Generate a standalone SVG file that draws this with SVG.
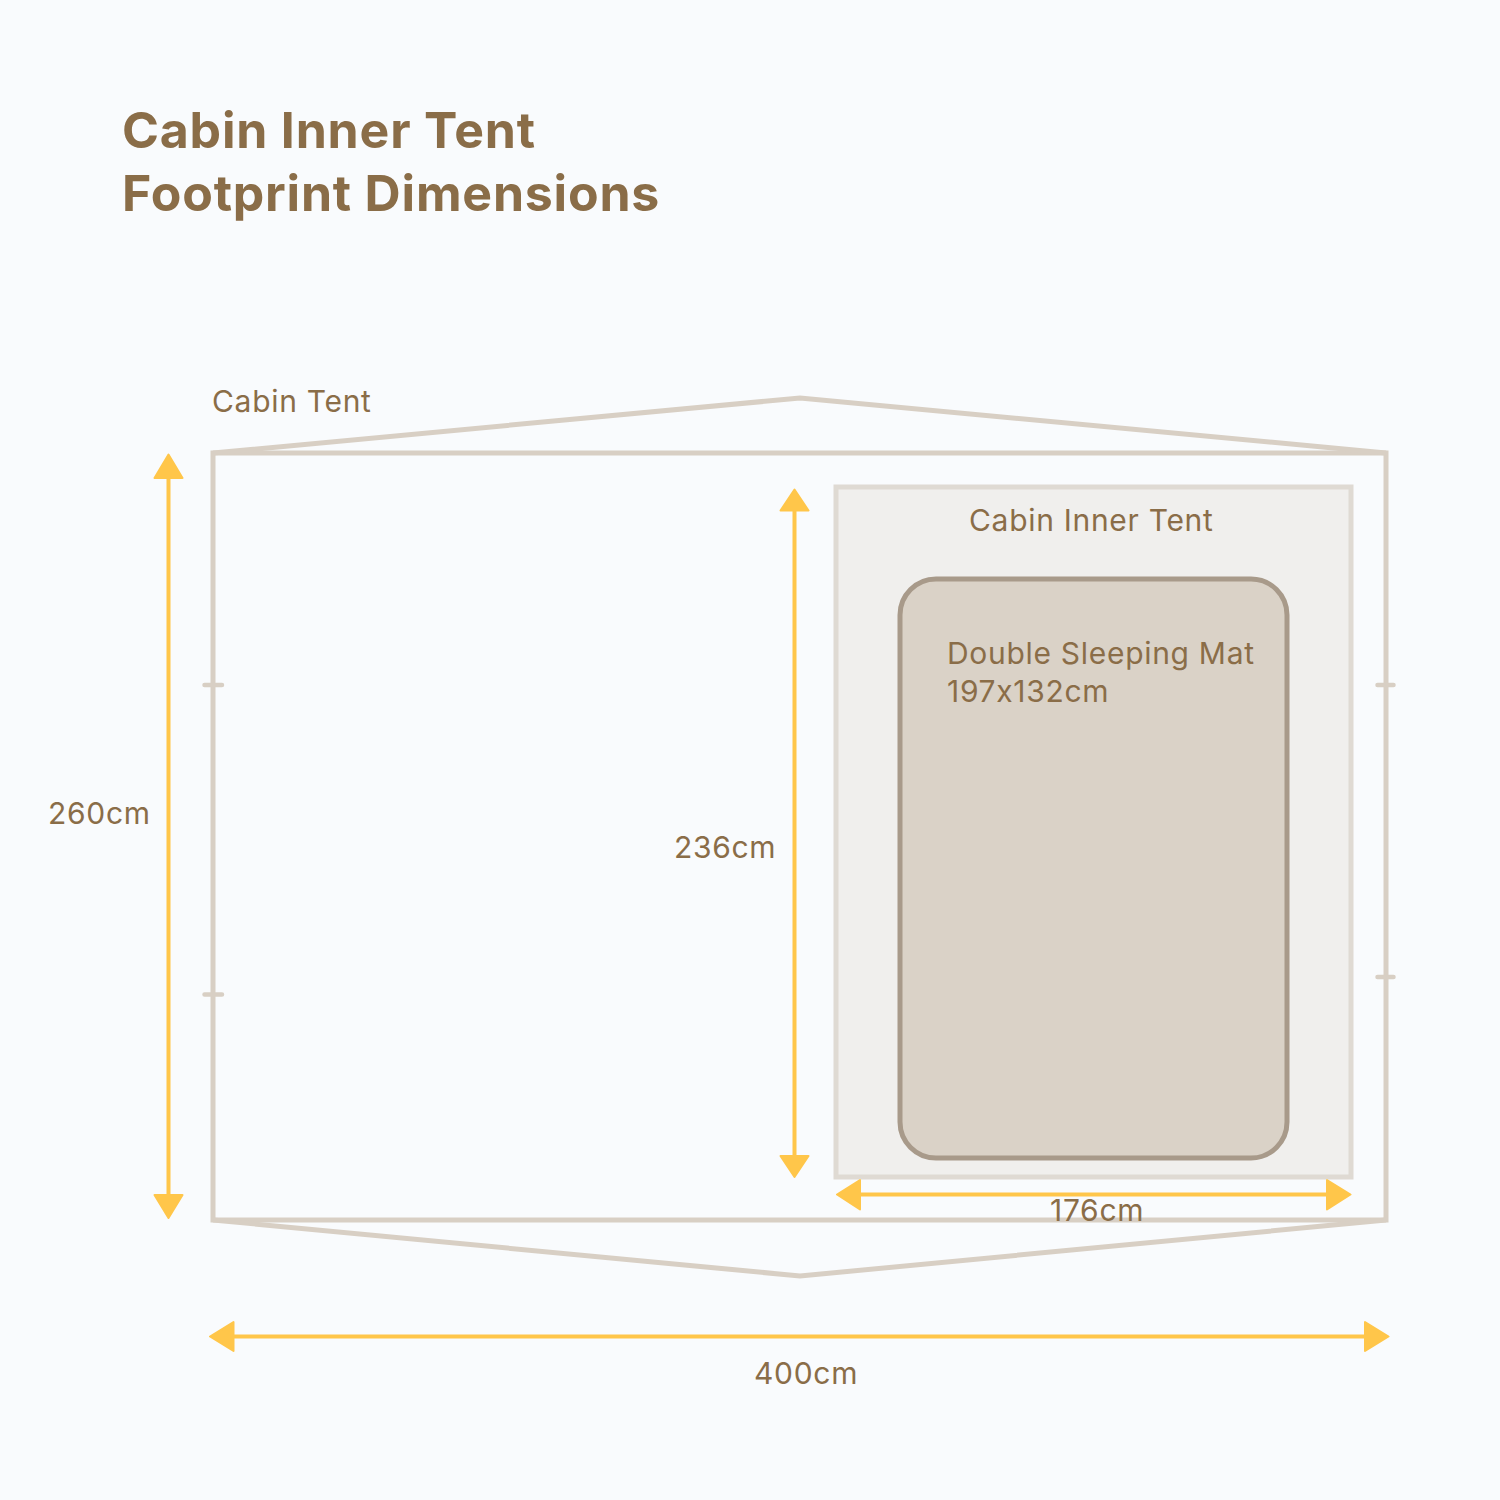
<svg xmlns="http://www.w3.org/2000/svg" width="1500" height="1500" viewBox="0 0 1500 1500">
<style>
.t{font-family:Inter,"Liberation Sans",sans-serif;fill:#8a6d48;font-size:30px;font-weight:400;letter-spacing:.7px}
.h{font-size:50px;font-weight:700;letter-spacing:.8px}
.tent{fill:none;stroke:#d8cfc4;stroke-width:5;stroke-linejoin:miter}
.tick{fill:none;stroke:#d8cfc4;stroke-width:4.500;stroke-linecap:round}
.dim{fill:none;stroke:#ffc64a;stroke-width:4}
.head{fill:#ffc64a;stroke:#ffc64a;stroke-width:2;stroke-linejoin:round}
</style>
<rect width="1500" height="1500" fill="#f9fbfd"/>
<g id="title"><text class="t h" x="122" y="148">Cabin Inner Tent</text><text class="t h" x="122" y="211">Footprint Dimensions</text></g>
<g id="cabin-tent">
<rect class="tent" x="213" y="453" width="1173" height="767"/>
<path class="tent" d="M213 453L800 398L1386 453M213 1220L800 1276L1386 1220"/>
<path class="tick" d="M204.500 685H222M204.500 994.500H222M1377.500 685H1393.500M1377.500 977H1393.500"/>
<text class="t" x="212" y="412">Cabin Tent</text>
</g>
<g id="inner-tent">
<rect x="836" y="487" width="515" height="690" fill="#f0efed" stroke="#dfdad3" stroke-width="5"/>
<text class="t" x="969" y="531">Cabin Inner Tent</text>
</g>
<g id="sleeping-mat">
<rect x="900" y="579" width="387" height="579" rx="36" fill="#dad2c7" stroke="#a89a8a" stroke-width="5"/>
<text class="t" x="947" y="664">Double Sleeping Mat</text>
<text class="t" x="947" y="702">197x132cm</text>
</g>
<g id="connectors">
<path class="dim" d="M168.500 470V1200M794.500 505V1160M855 1194.500H1330M230 1336.500H1370"/>
<path class="head" d="M168.500 454.500L182.500 478H154.500ZM168.500 1218L182.500 1195H154.500ZM794.500 489.500L808.500 510.500H780.500ZM794.500 1177L808.500 1156H780.500ZM837 1194.500L860 1180V1209.500ZM1350.500 1194.500L1327 1180V1209.500ZM210 1336.500L233.500 1322V1351ZM1388.500 1336.500L1365 1322V1351Z"/>
</g>
<g id="dimension-labels">
<text class="t" x="48" y="824">260cm</text>
<text class="t" x="674" y="858">236cm</text>
<text class="t" x="1050" y="1221">176cm</text>
<text class="t" x="754" y="1384">400cm</text>
</g>
</svg>
